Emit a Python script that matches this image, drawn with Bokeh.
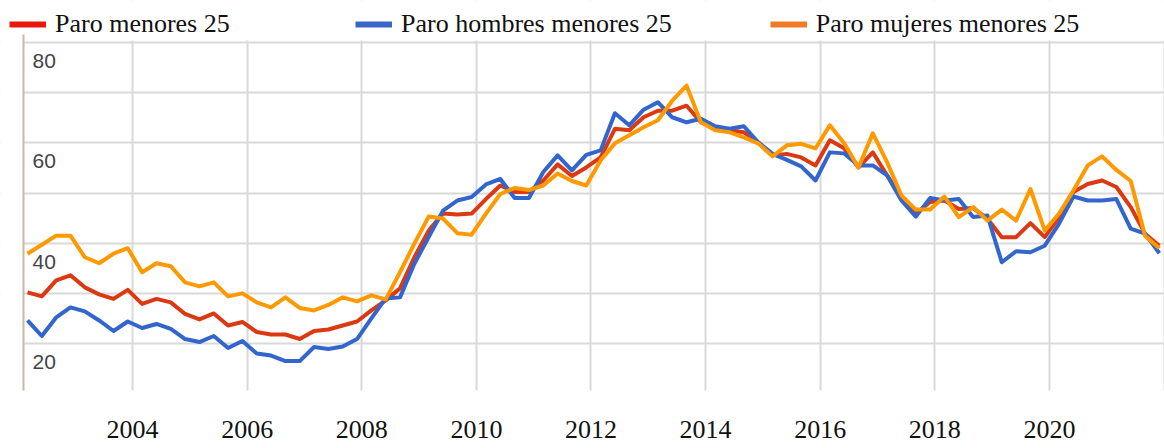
from bokeh.plotting import figure
from bokeh.models import FixedTicker, Legend, LegendItem, Range1d, BoxAnnotation
from bokeh.core.properties import value
from bokeh.embed import file_html
from bokeh.resources import INLINE

# ---------------- data (quarterly) ----------------
FIRST_QUARTER = 2002.1675        # position of the first quarter on the time axis
quarter_index = list(range(80))

paro_menores_25 = [30.2, 29.4, 32.6, 33.6, 31.2, 29.8, 28.9, 30.7, 27.9, 28.9,
                   28.2, 25.9, 24.8, 26.0, 23.6, 24.3, 22.3, 21.8, 21.8, 20.9,
                   22.5, 22.8, 23.6, 24.4, 26.6, 28.6, 31.0, 37.2, 42.5, 45.9,
                   45.7, 45.9, 48.8, 51.5, 50.2, 50.2, 52.5, 55.7, 53.4, 55.1,
                   57.1, 62.8, 62.5, 65.1, 66.4, 66.4, 67.4, 64.1, 63.1, 62.5,
                   62.1, 60.1, 57.5, 57.8, 57.1, 55.5, 60.5, 58.9, 55.1, 58.1,
                   53.5, 49.2, 45.9, 48.2, 48.5, 46.8, 47.0, 44.9, 41.2, 41.2,
                   44.0, 41.2, 45.2, 50.2, 51.8, 52.5, 51.2, 47.2, 41.9, 39.5]

paro_hombres_25 = [24.6, 21.5, 25.2, 27.2, 26.4, 24.6, 22.5, 24.4, 23.1, 23.9,
                   22.9, 20.9, 20.3, 21.5, 19.1, 20.5, 18.0, 17.6, 16.5, 16.5,
                   19.3, 18.9, 19.4, 20.9, 25.0, 29.0, 29.2, 35.9, 41.2, 46.5,
                   48.5, 49.2, 51.7, 52.8, 49.0, 49.0, 54.2, 57.5, 54.5, 57.6,
                   58.5, 65.9, 63.5, 66.6, 68.1, 65.1, 64.1, 64.8, 63.3, 62.8,
                   63.3, 60.1, 57.8, 56.6, 55.3, 52.5, 58.1, 57.9, 55.5, 55.5,
                   53.5, 48.5, 45.3, 49.0, 48.5, 48.8, 45.2, 45.5, 36.2, 38.4,
                   38.2, 39.5, 43.9, 49.3, 48.5, 48.5, 48.8, 42.9, 41.9, 38.0]

paro_mujeres_25 = [37.9, 39.7, 41.5, 41.5, 37.2, 36.0, 37.9, 39.0, 34.2, 36.0,
                   35.4, 32.2, 31.4, 32.2, 29.4, 30.0, 28.2, 27.2, 29.2, 27.1,
                   26.6, 27.7, 29.2, 28.4, 29.6, 28.8, 34.2, 39.9, 45.3, 44.9,
                   42.0, 41.7, 45.9, 49.8, 51.0, 50.6, 51.5, 53.9, 52.4, 51.5,
                   56.5, 59.9, 61.5, 63.1, 64.5, 68.4, 71.4, 64.1, 62.5, 62.1,
                   61.1, 59.9, 57.3, 59.5, 59.8, 58.9, 63.5, 59.9, 55.1, 61.9,
                   56.1, 49.5, 46.7, 46.7, 49.3, 45.2, 47.2, 44.5, 46.7, 44.5,
                   50.8, 42.5, 45.9, 50.5, 55.5, 57.3, 54.6, 52.4, 41.5, 39.0]

series_names = ["Paro menores 25", "Paro hombres menores 25", "Paro mujeres menores 25"]
line_colors = ["#dc3912", "#3366cc", "#ff9900"]
legend_colors = ["#e8180c", "#3a66c8", "#f07a26"]

xtick_years = [2004, 2006, 2008, 2010, 2012, 2014, 2016, 2018, 2020]
grid_years = [2004, 2006, 2008, 2010, 2012, 2014, 2016, 2018, 2020, 2022]
grid_values = [20, 30, 40, 50, 60, 70, 80]
ytick_values = [80, 60, 40, 20]
ytick_labels = ["80", "60", "40", "20"]

# ---------------- figure ----------------
X_START, X_END = 2001.6964, 2022.007   # whole drawing width
AXIS_X = 2002.098                      # left edge of the chart area
Y_START, Y_END = -0.92, 88.37          # whole drawing height (legend on top, years below)
CHART_TOP = 80.4                       # top of the chart area
CHART_BOTTOM = 10.63                   # bottom of the chart area

t = [FIRST_QUARTER + q / 4 for q in quarter_index]

p = figure(width=1164, height=448, output_backend="svg", toolbar_location=None,
           x_range=Range1d(X_START, X_END), y_range=Range1d(Y_START, Y_END),
           min_border_left=0, min_border_right=0, min_border_top=0,
           min_border_bottom=0)
p.outline_line_color = None
p.background_fill_color = "white"
p.border_fill_color = "white"

# grids
p.xgrid.ticker = FixedTicker(ticks=grid_years)
p.ygrid.ticker = FixedTicker(ticks=grid_values)
for g in (p.xgrid, p.ygrid):
    g.grid_line_color = "#d9d9d9"
    g.grid_line_width = 2
    g.level = "image"

# keep the grid inside the chart area
for box in (BoxAnnotation(right=AXIS_X), BoxAnnotation(bottom=CHART_TOP),
            BoxAnnotation(top=CHART_BOTTOM)):
    box.fill_color = "white"
    box.fill_alpha = 1
    box.line_color = None
    box.level = "underlay"
    p.add_layout(box)

# y axis: only the tan base line (no ticks), at the chart's left edge
p.yaxis.ticker = FixedTicker(ticks=[])
p.yaxis.fixed_location = AXIS_X
p.yaxis.bounds = (CHART_BOTTOM, 81.5)
p.yaxis.major_tick_line_color = None
p.yaxis.minor_tick_line_color = None
p.yaxis.major_tick_out = 0
p.yaxis.major_label_standoff = 0
p.yaxis.axis_line_color = "#c8b8a4"
p.yaxis.axis_line_width = 2

# x axis: serif year labels under the chart area
p.xaxis.ticker = FixedTicker(ticks=xtick_years)
p.xaxis.fixed_location = CHART_BOTTOM
p.xaxis.axis_line_color = None
p.xaxis.major_tick_line_color = None
p.xaxis.minor_tick_line_color = None
p.xaxis.major_tick_out = 0
p.xaxis.major_label_standoff = 30
p.xaxis.major_label_text_font = "Liberation Serif"
p.xaxis.major_label_text_font_size = "26px"
p.xaxis.major_label_text_color = "#111111"

# inside y labels (just under their grid lines)
p.text(x=[AXIS_X + 0.157] * len(ytick_values),
       y=[v - 3.65 for v in ytick_values],
       text=ytick_labels, text_font=value("Liberation Sans"),
       text_font_size="21px", text_color="#444444",
       text_baseline="middle", text_align="left")

# lines
all_series = [paro_menores_25, paro_hombres_25, paro_mujeres_25]
for vals, col in zip(all_series, line_colors):
    p.line(t, vals, line_color=col, line_width=4, line_join="round")

# legend swatches (legend-only renderers)
items = []
for name, vals, col in zip(series_names, all_series, legend_colors):
    r = p.line(t, vals, line_color=col, line_width=6, visible=False)
    items.append(LegendItem(label=name, renderers=[r]))

legend = Legend(items=items, orientation="horizontal", location="top_left",
                glyph_width=37, glyph_height=20, label_standoff=9,
                label_width=202, spacing=98, padding=0, margin=9,
                border_line_color=None, background_fill_alpha=0,
                inactive_fill_alpha=0,
                label_text_font="Liberation Serif", label_text_font_size="26px",
                label_text_color="#111111")
p.add_layout(legend)

open("out.html", "w").write(file_html(p, INLINE))
